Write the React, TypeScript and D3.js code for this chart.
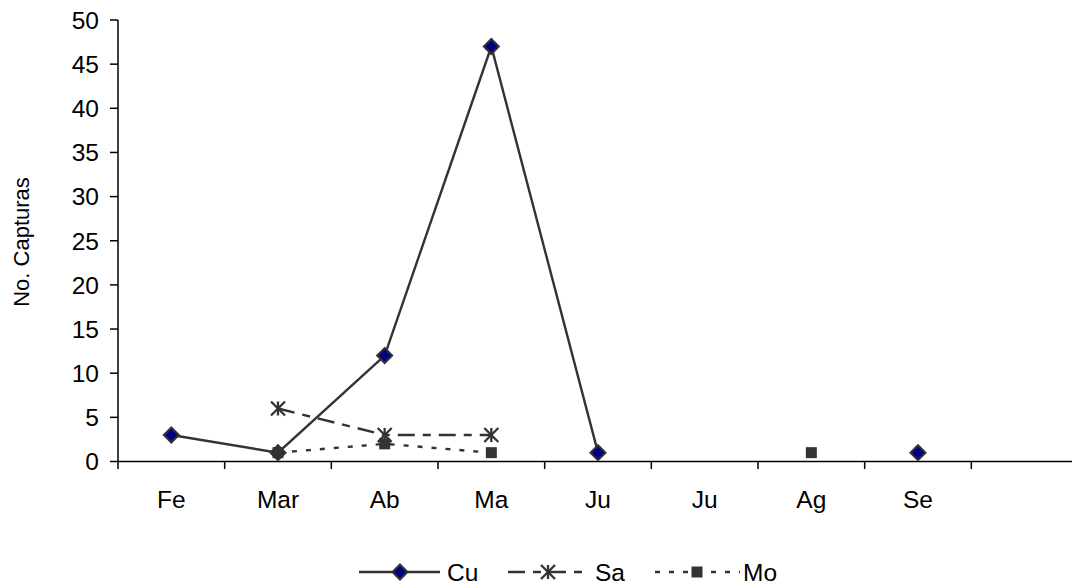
import React from "react";
import * as d3 from "d3";

// Monthly capture counts per species group
const months = ["Fe", "Mar", "Ab", "Ma", "Ju", "Ju ", "Ag", "Se", ""];
const cu: (number | null)[] = [3, 1, 12, 47, 1, null, null, 1, null];
const sa: (number | null)[] = [null, 6, 3, 3, null, null, null, null, null];
const mo: (number | null)[] = [null, 1, 2, 1, null, null, 1, null, null];
const yTicks = [0, 5, 10, 15, 20, 25, 30, 35, 40, 45, 50];

const W = 1072;
const H = 586;
const FONT = "'Liberation Sans', Arial, sans-serif";
const LINE = "#333333";
const TICK_FS = 24.5;

const x = d3.scaleBand<string>().domain(months).range([118, 1078]).paddingInner(0).paddingOuter(0);
const y = d3.scaleLinear().domain([0, 50]).range([461.5, 20]);
const cx = (i: number) => (x(months[i]) as number) + x.bandwidth() / 2;

type Pt = { i: number; v: number | null };
const toPts = (arr: (number | null)[]): Pt[] => arr.map((v, i) => ({ i, v }));
const lineGen = d3
  .line<Pt>()
  .defined((d) => d.v !== null)
  .x((d) => cx(d.i))
  .y((d) => y(d.v as number));

function Diamond({ px, py }: { px: number; py: number }) {
  const r = 7.5;
  return (
    <path
      d={`M${px},${py - r}L${px + r},${py}L${px},${py + r}L${px - r},${py}Z`}
      fill="#000080"
      stroke={LINE}
      strokeWidth={2}
    />
  );
}

function Star({ px, py }: { px: number; py: number }) {
  const r = 7;
  return (
    <g stroke={LINE} strokeWidth={2.3}>
      <line x1={px - r} y1={py - r} x2={px + r} y2={py + r} />
      <line x1={px - r} y1={py + r} x2={px + r} y2={py - r} />
      <line x1={px} y1={py - r} x2={px} y2={py + r} />
    </g>
  );
}

function Square({ px, py }: { px: number; py: number }) {
  const r = 5.5;
  return <rect x={px - r} y={py - r} width={2 * r} height={2 * r} fill={LINE} />;
}

const SA_DASH = "17,8,8,8";
const MO_DASH = "5,9";
const LW = 2.4;

export default function App() {
  const cuPts = toPts(cu);
  const saPts = toPts(sa);
  const moPts = toPts(mo);
  const xTickPos = months.map((m) => x(m) as number);

  return (
    <svg width={W} height={H} style={{ position: "absolute", left: 0, top: 0 }} fontFamily={FONT}>
      <rect width={W} height={H} fill="#ffffff" />
      {/* y axis */}
      <line x1={118} y1={20} x2={118} y2={461.5} stroke="#000" strokeWidth={1.5} />
      {yTicks.map((t) => (
        <g key={t}>
          <line x1={110} x2={118} y1={y(t)} y2={y(t)} stroke="#000" strokeWidth={1.5} />
          <text x={99} y={y(t)} dy="0.36em" textAnchor="end" fontSize={TICK_FS} fill="#000">
            {t}
          </text>
        </g>
      ))}
      <text
        transform={`translate(21,242) rotate(-90)`}
        textAnchor="middle"
        dy="0.36em"
        fontSize={22}
        fill="#000"
      >
        No. Capturas
      </text>
      {/* x axis */}
      <line x1={118} x2={1078} y1={461.5} y2={461.5} stroke="#000" strokeWidth={1.5} />
      {xTickPos.map((p, i) => (
        <line key={i} x1={p} x2={p} y1={461.5} y2={469} stroke="#000" strokeWidth={1.5} />
      ))}
      {months.map((m, i) => (
        <text key={i} x={cx(i)} y={508} textAnchor="middle" fontSize={TICK_FS} fill="#000">
          {m.trim()}
        </text>
      ))}

      {/* series */}
      <path d={lineGen(cuPts) || ""} fill="none" stroke={LINE} strokeWidth={LW} />
      <path d={lineGen(saPts) || ""} fill="none" stroke={LINE} strokeWidth={LW} strokeDasharray={SA_DASH} />
      <path d={lineGen(moPts) || ""} fill="none" stroke={LINE} strokeWidth={LW} strokeDasharray={MO_DASH} />
      {cuPts.filter((d) => d.v !== null).map((d) => (
        <Diamond key={`c${d.i}`} px={cx(d.i)} py={y(d.v as number)} />
      ))}
      {saPts.filter((d) => d.v !== null).map((d) => (
        <Star key={`s${d.i}`} px={cx(d.i)} py={y(d.v as number)} />
      ))}
      {moPts.filter((d) => d.v !== null).map((d) => (
        <Square key={`m${d.i}`} px={cx(d.i)} py={y(d.v as number)} />
      ))}

      {/* legend */}
      <g>
        <line x1={359} x2={440} y1={572} y2={572} stroke={LINE} strokeWidth={LW} />
        <Diamond px={400} py={572} />
        <text x={447} y={572} dy="0.36em" fontSize={TICK_FS} fill="#000">Cu</text>
        <line x1={508} x2={586} y1={572} y2={572} stroke={LINE} strokeWidth={LW} strokeDasharray={SA_DASH} />
        <Star px={548} py={572} />
        <text x={595} y={572} dy="0.36em" fontSize={TICK_FS} fill="#000">Sa</text>
        <line x1={655} x2={740} y1={572} y2={572} stroke={LINE} strokeWidth={LW} strokeDasharray={MO_DASH} />
        <Square px={697} py={572} />
        <text x={743} y={572} dy="0.36em" fontSize={TICK_FS} fill="#000">Mo</text>
      </g>
    </svg>
  );
}
